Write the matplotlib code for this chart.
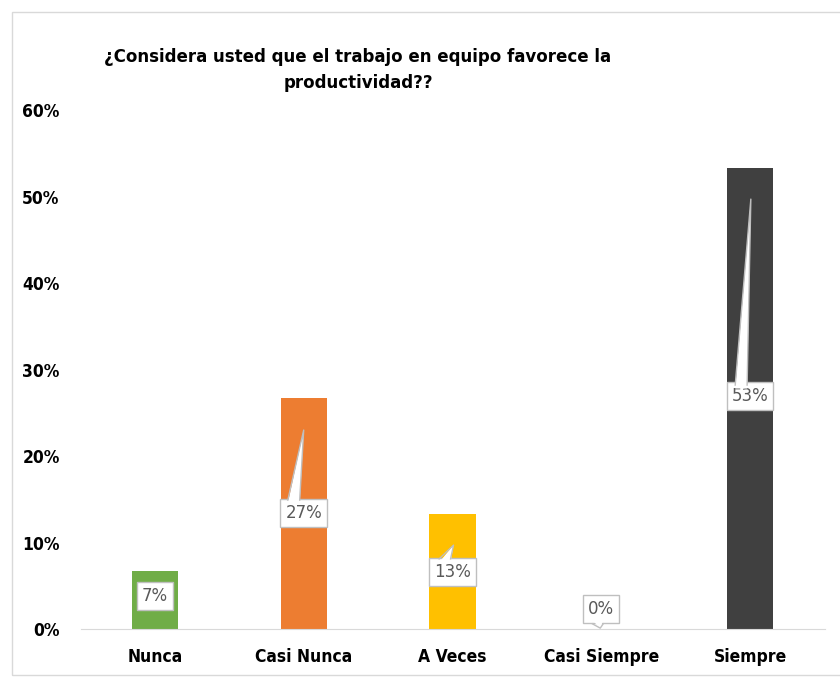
import matplotlib.pyplot as plt
from matplotlib.patches import Polygon, Rectangle

# data (n = 15 answers)
categories = ["Nunca", "Casi Nunca", "A Veces", "Casi Siempre", "Siempre"]
values = [0.0667, 0.2667, 0.1333, 0.0, 0.5333]
labels = ["7%", "27%", "13%", "0%", "53%"]
colors = ["#70AD47", "#ED7D31", "#FFC000", "#A5A5A5", "#404040"]
yticks = [0, 0.1, 0.2, 0.3, 0.4, 0.5, 0.6]
ytick_labels = ["0%", "10%", "20%", "30%", "40%", "50%", "60%"]
title = "¿Considera usted que el trabajo en equipo favorece la\nproductividad??"

# callout placement (box centre, wedge base x-offsets, wedge base y, tip)
callouts = [
    dict(box=(0.0, 0.038), wedge=None),
    dict(box=(1.0, 0.134), wedge=((-0.107, -0.027), 0.149, (1.0, 0.23))),
    dict(box=(2.0, 0.066), wedge=((-0.09, -0.013), 0.081, (2.007, 0.097))),
    dict(box=(3.0, 0.023), wedge=((-0.06, 0.013), 0.006, (2.993, 0.001))),
    dict(box=(4.0, 0.269), wedge=((-0.10, -0.02), 0.282, (4.005, 0.497))),
]

plt.rcParams["font.family"] = ["DejaVu Sans"]
plt.rcParams["font.stretch"] = "condensed"

fig = plt.figure(figsize=(8.4, 6.79), dpi=100)
fig.patches.append(Rectangle((12 / 840, 4 / 679), 840, 663 / 679,
                             transform=fig.transFigure, fill=False,
                             edgecolor="#d9d9d9", lw=1))

ax = fig.add_axes([80.5 / 840, 50 / 679, 744 / 840, 519 / 679])
x = list(range(len(categories)))
ax.bar(x, values, width=0.31, color=colors, zorder=2)
ax.set_xlim(-0.5, 4.5)
ax.set_ylim(0, 0.6)
ax.set_yticks(yticks)
ax.set_yticklabels(ytick_labels, fontsize=12.5, fontweight="bold")
ax.set_xticks(x)
ax.set_xticklabels(categories, fontsize=12.5, fontweight="bold")
ax.tick_params(axis="y", length=0, pad=15)
ax.tick_params(axis="x", length=0, pad=14)
for s in ["top", "right", "left"]:
    ax.spines[s].set_visible(False)
ax.spines["bottom"].set_color("#d9d9d9")

for lab, c in zip(labels, callouts):
    bx, by = c["box"]
    ax.text(bx, by, lab, ha="center", va="center", fontsize=12,
            color="#595959", fontstretch="normal", fontweight="normal", zorder=4,
            bbox=dict(boxstyle="square,pad=0.3", fc="white", ec="#bfbfbf", lw=1))
    if c["wedge"] is not None:
        (o1, o2), base_y, tip = c["wedge"]
        inside = 0.004 if tip[1] > base_y else -0.004
        p1 = (bx + o1, base_y)
        p2 = (bx + o2, base_y)
        ax.add_patch(Polygon([(p1[0], base_y - inside), tip, (p2[0], base_y - inside)],
                             closed=True, fc="white", ec="none", zorder=5))
        ax.plot([p1[0], tip[0], p2[0]], [p1[1], tip[1], p2[1]],
                color="#bfbfbf", lw=1, zorder=6)

fig.text(358 / 840, 1 - 70 / 679, title, ha="center", va="center",
         fontsize=13.3, fontweight="bold", linespacing=1.5)

fig.savefig("out.png", dpi=100)
